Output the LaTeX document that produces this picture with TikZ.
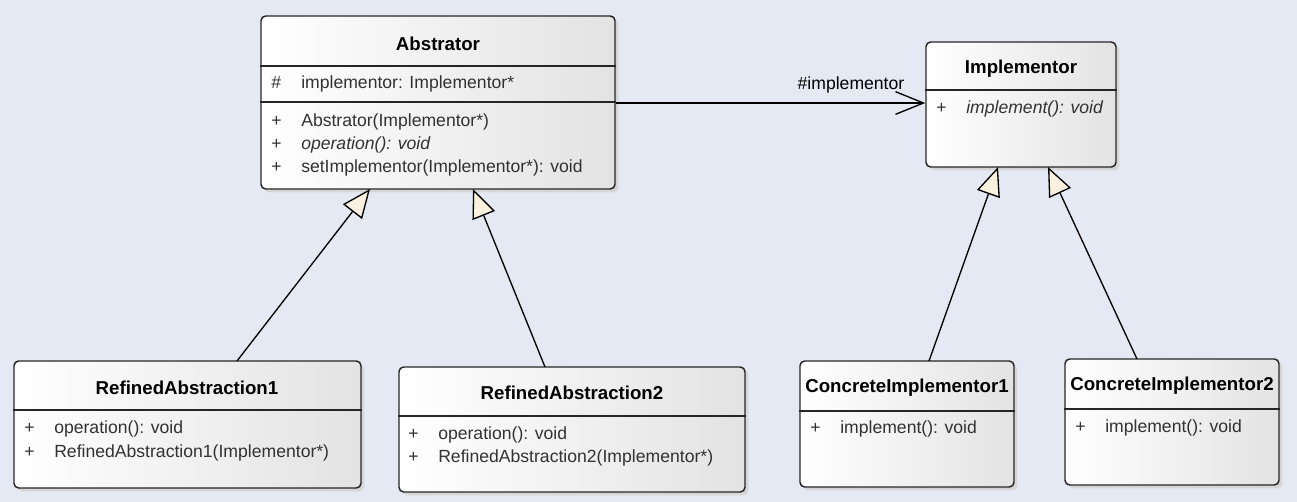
\documentclass[tikz,border=0pt]{standalone}
\usepackage{fontspec}
\setmainfont{Liberation Sans}
\usetikzlibrary{arrows.meta,shadows}
\definecolor{umlbg}{RGB}{229,233,244}
\definecolor{umlhead}{RGB}{250,240,224}
\definecolor{umltext}{RGB}{50,50,50}
\tikzset{
  classbox/.style={
    draw=black!85,
    line width=1.1pt,
    rounded corners=3.5pt,
    left color=white,
    right color=black!11,
    inner sep=0pt,
    drop shadow={shadow xshift=2.5pt, shadow yshift=-2.5pt, fill=black!16, opacity=1}
  },
  classname/.style={font=\bfseries\fontsize{14}{16}\selectfont, inner sep=0pt},
  member/.style={anchor=west, inner sep=0pt, text height=10pt, text depth=1pt,
    text=umltext, font=\fontsize{13.2}{15}\selectfont},
  divider/.style={draw=black!85, line width=1.1pt},
  inherit/.style={line width=1pt, -{Triangle[length=21.5pt, width=18pt, fill=umlhead, line width=1pt]}},
  assoc/.style={line width=1pt, -{Straight Barb[length=21pt, width=17pt, line width=1pt]}}
}
\newcommand{\vis}[3]{\node[member] at (#1-30,#2) {#3};}

\begin{document}
\begin{tikzpicture}[x=0.75pt, y=-0.75pt]
  \fill[umlbg] (0,0) rectangle (1297,502);
  \useasboundingbox (0,0) rectangle (1297,502);
  % Class boxes
  \node[classbox, minimum width=265.5pt, minimum height=129.75pt] (abstrator) at (438,102.5) {};
  \node[classbox, minimum width=142.5pt, minimum height=93.75pt] (implementor) at (1021,104.5) {};
  \node[classbox, minimum width=260.25pt, minimum height=95.25pt] (refined1) at (187.5,424.5) {};
  \node[classbox, minimum width=259.5pt, minimum height=93.75pt] (refined2) at (572,429.5) {};
  \node[classbox, minimum width=160.5pt, minimum height=94.5pt] (concrete1) at (907,424) {};
  \node[classbox, minimum width=160.5pt, minimum height=94.5pt] (concrete2) at (1172,422) {};
  % Compartment lines
  \draw[divider] (abstrator.west |- 0,66) -- (abstrator.east |- 0,66)
    (abstrator.west |- 0,102) -- (abstrator.east |- 0,102);
  \draw[divider] (implementor.west |- 0,90) -- (implementor.east |- 0,90);
  \draw[divider] (refined1.west |- 0,410) -- (refined1.east |- 0,410);
  \draw[divider] (refined2.west |- 0,416) -- (refined2.east |- 0,416);
  \draw[divider] (concrete1.west |- 0,411) -- (concrete1.east |- 0,411);
  \draw[divider] (concrete2.west |- 0,409) -- (concrete2.east |- 0,409);
  % Class names
  \node[classname] (abstrator-name) at (438,44) {Abstrator};
  \node[classname] (implementor-name) at (1021,69) {Implementor};
  \node[classname] (refined1-name) at (187,388) {RefinedAbstraction1};
  \node[classname] (refined2-name) at (572,393) {RefinedAbstraction2};
  \node[classname] (concrete1-name) at (907,388) {ConcreteImplementor1};
  \node[classname] (concrete2-name) at (1172,386) {ConcreteImplementor2};
  % Members
  \vis{301}{83}{\#}
  \node[member] (abs-attr) at (301,83) {implementor: Implementor*};
  \vis{301}{121}{+}
  \node[member] (abs-ctor) at (301,121) {Abstrator(Implementor*)};
  \vis{301}{144}{+}
  \node[member] (abs-op) at (301,144) {\itshape operation(): void};
  \vis{301}{167}{+}
  \node[member] (abs-set) at (301,167) {setImplementor(Implementor*): void};
  \vis{966}{108}{+}
  \node[member] (impl-op) at (966,108) {\itshape implement(): void};
  \vis{54}{428}{+}
  \node[member] (ref1-op) at (54,428) {operation(): void};
  \vis{54}{451}{+}
  \node[member] (ref1-ctor) at (54,451) {RefinedAbstraction1(Implementor*)};
  \vis{438}{434}{+}
  \node[member] (ref2-op) at (438,434) {operation(): void};
  \vis{438}{457}{+}
  \node[member] (ref2-ctor) at (438,457) {RefinedAbstraction2(Implementor*)};
  \vis{840}{428}{+}
  \node[member] (con1-op) at (840,428) {implement(): void};
  \vis{1105}{426}{+}
  \node[member] (con2-op) at (1105,426) {implement(): void};
  % Connector ends
  \coordinate (abs-in1) at (370,189);
  \coordinate (abs-in2) at (473,189);
  \coordinate (impl-in1) at (998,167);
  \coordinate (impl-in2) at (1048,167);
  \coordinate (ref1-out) at (237,361);
  \coordinate (ref2-out) at (545,367);
  \coordinate (con1-out) at (929,361);
  \coordinate (con2-out) at (1137,359);
  % Generalizations
  \draw[inherit] (ref1-out) -- (abs-in1);
  \draw[inherit] (ref2-out) -- (abs-in2);
  \draw[inherit] (con1-out) -- (impl-in1);
  \draw[inherit] (con2-out) -- (impl-in2);
  % Association
  \draw[assoc] (abstrator.east |- 0,103) -- (implementor.west |- 0,103)
    node[pos=0.76, above=7pt, inner sep=0pt, font=\fontsize{13.2}{15}\selectfont] (assoc-label) {\#implementor};
\end{tikzpicture}
\end{document}
